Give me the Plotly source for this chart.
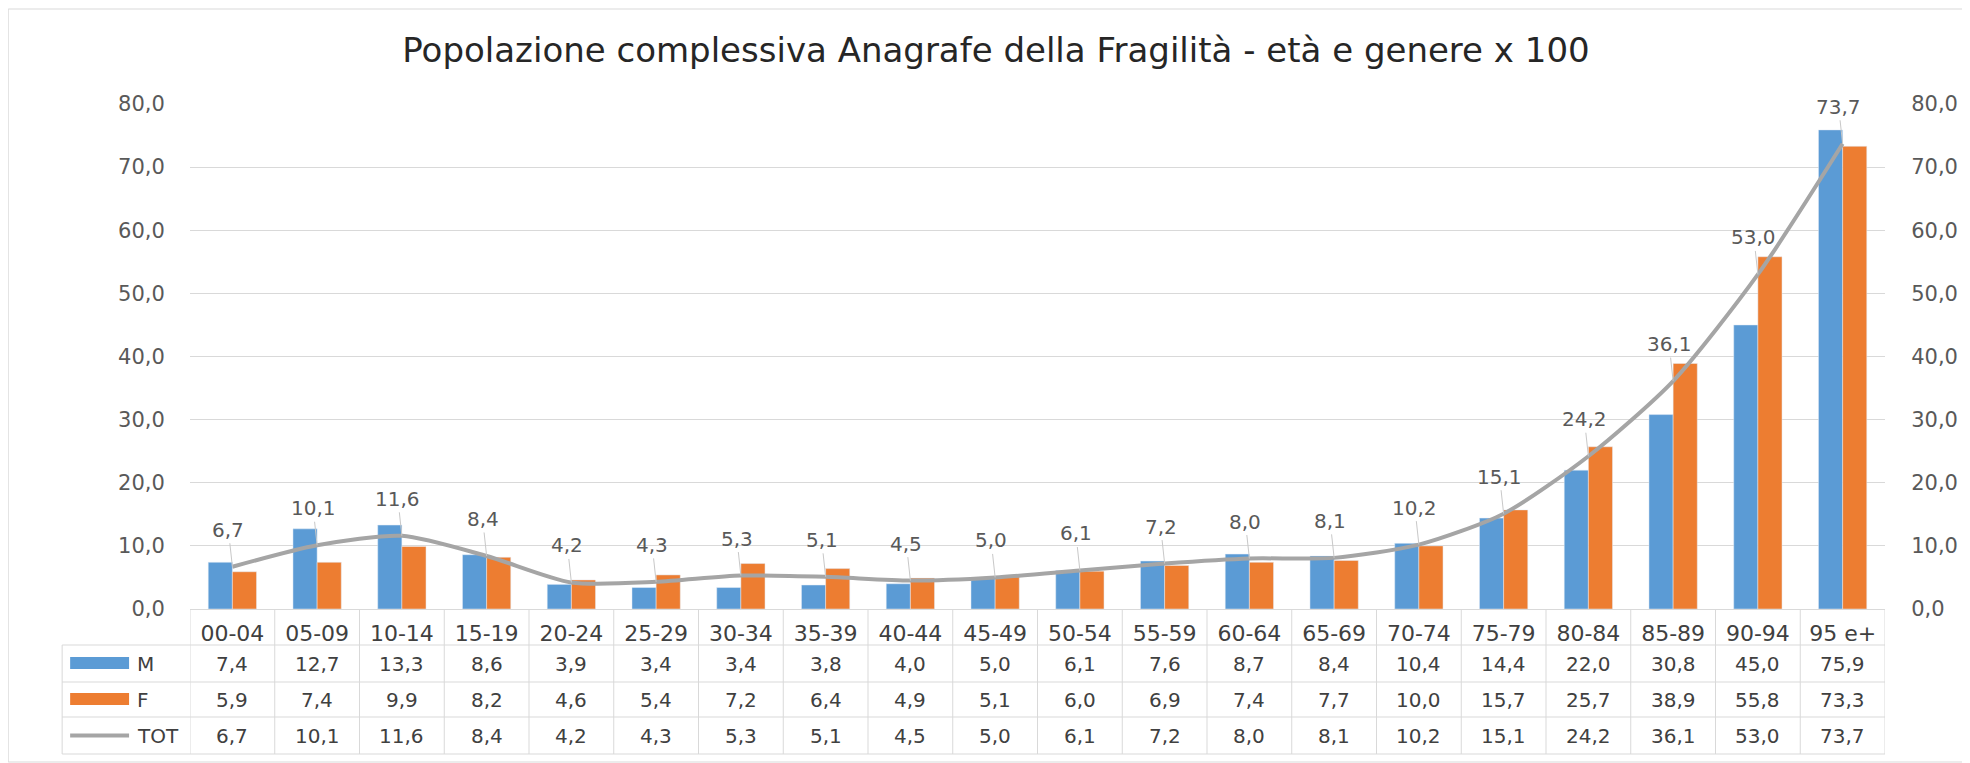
import plotly.graph_objects as go

categories = ["00-04", "05-09", "10-14", "15-19", "20-24", "25-29", "30-34", "35-39", "40-44", "45-49",
              "50-54", "55-59", "60-64", "65-69", "70-74", "75-79", "80-84", "85-89", "90-94", "95 e+"]
m_values = [7.4, 12.7, 13.3, 8.6, 3.9, 3.4, 3.4, 3.8, 4.0, 5.0,
            6.1, 7.6, 8.7, 8.4, 10.4, 14.4, 22.0, 30.8, 45.0, 75.9]
f_values = [5.9, 7.4, 9.9, 8.2, 4.6, 5.4, 7.2, 6.4, 4.9, 5.1,
            6.0, 6.9, 7.4, 7.7, 10.0, 15.7, 25.7, 38.9, 55.8, 73.3]
tot_values = [6.7, 10.1, 11.6, 8.4, 4.2, 4.3, 5.3, 5.1, 4.5, 5.0,
              6.1, 7.2, 8.0, 8.1, 10.2, 15.1, 24.2, 36.1, 53.0, 73.7]
series_names = ["M", "F", "TOT"]

title = "Popolazione complessiva Anagrafe della Fragilità - età e genere x 100"

BLUE = "#5B9BD5"
ORANGE = "#ED7D31"
GRAY = "#A5A5A5"
GRID = "#D9D9D9"
TXT = "#595959"
TABLE_TXT = "#404040"
FONT = "DejaVu Sans"

# the page body has an 8px margin, so the figure is made smaller and shifted
OFF = 8
WIDTH, HEIGHT = 1970 - OFF, 763 - OFF
# plot area in window pixels
L, R, T, B = 190, 1887, 104, 609


def py(p):
    # window pixel row -> paper y
    return (B - p) / (B - T)


def px(p):
    # window pixel column -> paper x
    return (p - L) / (R - L)


def fmt(v):
    return f"{v:.1f}".replace(".", ",")


fig = go.Figure()
fig.add_trace(go.Bar(x=categories, y=m_values, name="M", marker_color=BLUE))
fig.add_trace(go.Bar(x=categories, y=f_values, name="F", marker_color=ORANGE))
fig.add_trace(go.Scatter(x=categories, y=tot_values, name="TOT", mode="lines", yaxis="y2",
                         line=dict(color=GRAY, width=4, shape="spline", smoothing=0.7)))

# data labels of TOT with leader lines
for c, v in zip(categories, tot_values):
    fig.add_annotation(x=c, y=v, xref="x", yref="y", text=fmt(v), showarrow=True,
                       arrowhead=0, arrowwidth=1, arrowcolor="#C8C8C8", ax=-4, ay=-37,
                       standoff=0, font=dict(family=FONT, size=20, color=TXT))

shapes = []
line_style = dict(color=GRID, width=1)
# data table: horizontal lines
for yy in [645, 682, 717, 754]:
    shapes.append(dict(type="line", xref="paper", yref="paper", x0=px(62), x1=1,
                       y0=py(yy), y1=py(yy), line=line_style))
# vertical lines
shapes.append(dict(type="line", xref="paper", yref="paper", x0=px(62), x1=px(62),
                   y0=py(645), y1=py(754), line=line_style))
for i in range(len(categories) + 1):
    shapes.append(dict(type="line", xref="x", yref="paper", x0=i - 0.5, x1=i - 0.5,
                       y0=0, y1=py(754), line=line_style))

# legend keys inside the table
row_y = [663.5, 699.5, 735.5]
shapes.append(dict(type="rect", xref="paper", yref="paper", x0=px(70), x1=px(129),
                   y0=py(669), y1=py(657), fillcolor=BLUE, line_width=0))
shapes.append(dict(type="rect", xref="paper", yref="paper", x0=px(70), x1=px(129),
                   y0=py(705), y1=py(693), fillcolor=ORANGE, line_width=0))
shapes.append(dict(type="line", xref="paper", yref="paper", x0=px(70), x1=px(129),
                   y0=py(735.5), y1=py(735.5), line=dict(color=GRAY, width=4)))

# chart border
shapes.append(dict(type="rect", xref="paper", yref="paper", x0=px(OFF), x1=px(1965),
                   y0=py(762), y1=py(OFF + 1), line=dict(color=GRID, width=1), layer="below"))

for name, yy in zip(series_names, row_y):
    fig.add_annotation(x=px(135), y=py(yy), xref="paper", yref="paper", text=name,
                       showarrow=False, xanchor="left", yanchor="middle",
                       font=dict(family=FONT, size=20, color=TABLE_TXT))

for vals, yy in zip([m_values, f_values, tot_values], row_y):
    for c, v in zip(categories, vals):
        fig.add_annotation(x=c, y=py(yy), xref="x", yref="paper", text=fmt(v),
                           showarrow=False, yanchor="middle",
                           font=dict(family=FONT, size=20, color=TABLE_TXT))

fig.update_layout(
    width=WIDTH, height=HEIGHT,
    margin=dict(l=L - OFF, r=1970 - R, t=T - OFF, b=763 - B),
    paper_bgcolor="white", plot_bgcolor="white",
    separators=",.",
    showlegend=False,
    barmode="group", bargap=0.43, bargroupgap=0,
    shapes=shapes,
    title=dict(text=title, x=(996 - OFF) / WIDTH, y=1 - (50 - OFF) / HEIGHT,
               xanchor="center", yanchor="middle",
               font=dict(family=FONT, size=34, color="#262626")),
    font=dict(family=FONT, color=TXT),
)
fig.update_xaxes(type="category", range=[-0.5, len(categories) - 0.5], showline=True,
                 linecolor=GRID, linewidth=1, showgrid=False, ticks="outside", ticklen=5,
                 tickcolor="rgba(0,0,0,0)", tickfont=dict(family=FONT, size=22, color=TABLE_TXT))
fig.update_layout(
    yaxis=dict(range=[0, 80], dtick=10, tickformat=".1f", showgrid=True, gridcolor=GRID,
               zeroline=False, ticks="outside", ticklen=20, tickcolor="rgba(0,0,0,0)",
               tickfont=dict(family=FONT, size=21, color=TXT)),
    yaxis2=dict(range=[0, 80], dtick=10, tickformat=".1f", overlaying="y", side="right",
                showgrid=False, zeroline=False, ticks="outside", ticklen=21,
                tickcolor="rgba(0,0,0,0)", tickfont=dict(family=FONT, size=21, color=TXT)),
)

fig.write_html("out.html")
